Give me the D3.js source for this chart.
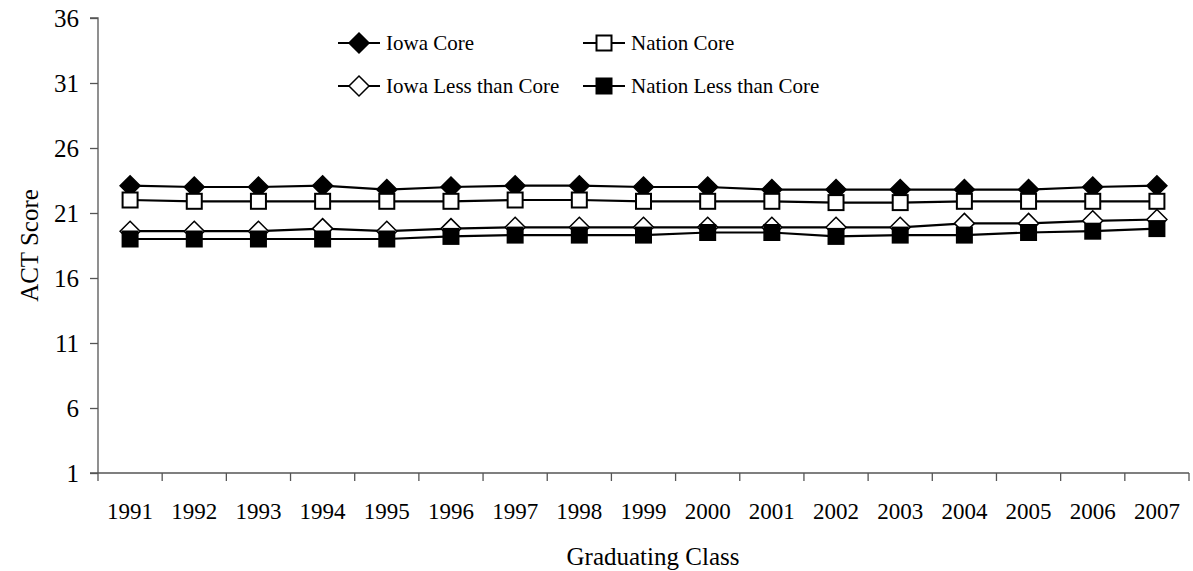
<!DOCTYPE html>
<html><head><meta charset="utf-8">
<script src="https://cdn.jsdelivr.net/npm/d3@7"></script>
<style>body{margin:0;background:#fff;} svg{display:block;}</style>
</head><body>
<svg id="chart" width="1193" height="571"></svg>
<script>
const years = ["1991","1992","1993","1994","1995","1996","1997","1998","1999","2000","2001","2002","2003","2004","2005","2006","2007"];
const iowaCore =        [23.1,23.0,23.0,23.1,22.8,23.0,23.1,23.1,23.0,23.0,22.8,22.8,22.8,22.8,22.8,23.0,23.1];
const nationCore =      [22.0,21.9,21.9,21.9,21.9,21.9,22.0,22.0,21.9,21.9,21.9,21.8,21.8,21.9,21.9,21.9,21.9];
const iowaLessCore =    [19.6,19.6,19.6,19.8,19.6,19.8,19.9,19.9,19.9,19.9,19.9,19.9,19.9,20.2,20.2,20.4,20.5];
const nationLessCore =  [19.0,19.0,19.0,19.0,19.0,19.2,19.3,19.3,19.3,19.5,19.5,19.2,19.3,19.3,19.5,19.6,19.8];
const yTicks = [1,6,11,16,21,26,31,36];
const seriesNames = ["Iowa Core","Nation Core","Iowa Less than Core","Nation Less than Core"];

(function(){
const series = [
  {name: seriesNames[0], values: iowaCore, shape: "diamond", fill: "#000"},
  {name: seriesNames[1], values: nationCore, shape: "square", fill: "#fff"},
  {name: seriesNames[2], values: iowaLessCore, shape: "diamond", fill: "#fff"},
  {name: seriesNames[3], values: nationLessCore, shape: "square", fill: "#000"}
];

const svg = d3.select("#chart");
const font = "'Liberation Serif','Times New Roman',serif";
const pL = 98, pR = 1189, pT = 18, pB = 473;

const x = d3.scaleBand().domain(years).range([pL, pR]).padding(0);
const y = d3.scaleLinear().domain([1,36]).range([pB, pT]);

const axisColor = "#555";
const yAxis = svg.append("g").attr("transform", `translate(${pL},0)`)
  .call(d3.axisLeft(y).tickValues(yTicks).tickSize(8).tickFormat(d3.format("d")));
yAxis.select(".domain").attr("stroke", axisColor).attr("stroke-width", 1.3).attr("d", `M-8,${pT}H0V${pB}`);
yAxis.selectAll(".tick line").attr("stroke", axisColor).attr("stroke-width", 1.3);
yAxis.selectAll(".tick text").attr("font-family", font).attr("font-size", 25).attr("fill", "#000").attr("x", -19);

const xAxis = svg.append("g").attr("transform", `translate(0,${pB})`)
  .call(d3.axisBottom(x).tickSize(0).tickFormat(d => d));
xAxis.select(".domain").attr("stroke", axisColor).attr("stroke-width", 1.3).attr("d", `M${pL-8},0H${pR}`);
xAxis.selectAll(".tick text").attr("font-family", font).attr("font-size", 23).attr("fill", "#000").attr("dy", 0).attr("y", 46);
const bounds = years.map(d => x(d)).concat([pR]);
xAxis.selectAll(".btick").data(bounds).enter().append("line")
  .attr("x1", d => d).attr("x2", d => d).attr("y1", 0).attr("y2", 8)
  .attr("stroke", axisColor).attr("stroke-width", 1.3);

svg.append("text").attr("x", 653).attr("y", 565)
  .attr("text-anchor", "middle").attr("font-family", font).attr("font-size", 25).text("Graduating Class");
svg.append("text").attr("transform", `translate(38,${(pT+pB)/2}) rotate(-90)`)
  .attr("text-anchor", "middle").attr("font-family", font).attr("font-size", 25).text("ACT Score");

function drawMarker(g, shape, fill, cx, cy) {
  if (shape === "diamond") {
    g.append("path").attr("d", `M${cx},${cy-10}L${cx+10},${cy}L${cx},${cy+10}L${cx-10},${cy}Z`)
      .attr("fill", fill).attr("stroke", "#000").attr("stroke-width", 1.5);
  } else {
    g.append("rect").attr("x", cx-7.5).attr("y", cy-7.5).attr("width", 15).attr("height", 15)
      .attr("fill", fill).attr("stroke", "#000").attr("stroke-width", 2);
  }
}

const line = d3.line().x((d,i) => x(years[i]) + x.bandwidth()/2).y(d => y(d));
series.forEach(s => {
  const g = svg.append("g");
  g.append("path").datum(s.values).attr("d", line).attr("fill", "none").attr("stroke", "#000").attr("stroke-width", 2.2);
  s.values.forEach((v,i) => drawMarker(g, s.shape, s.fill, x(years[i]) + x.bandwidth()/2, y(v)));
});

const legendPos = [[338,43],[583,43],[338,86],[583,86]];
series.forEach((s,i) => {
  const [lx, ly] = legendPos[i];
  const g = svg.append("g");
  g.append("line").attr("x1", lx).attr("x2", lx+42).attr("y1", ly).attr("y2", ly).attr("stroke", "#000").attr("stroke-width", 2.2);
  drawMarker(g, s.shape, s.fill, lx+21, ly);
  g.append("text").attr("x", lx+48).attr("y", ly).attr("dy", "0.35em")
    .attr("font-family", font).attr("font-size", 21).text(s.name);
});
})();
</script>
</body></html>
